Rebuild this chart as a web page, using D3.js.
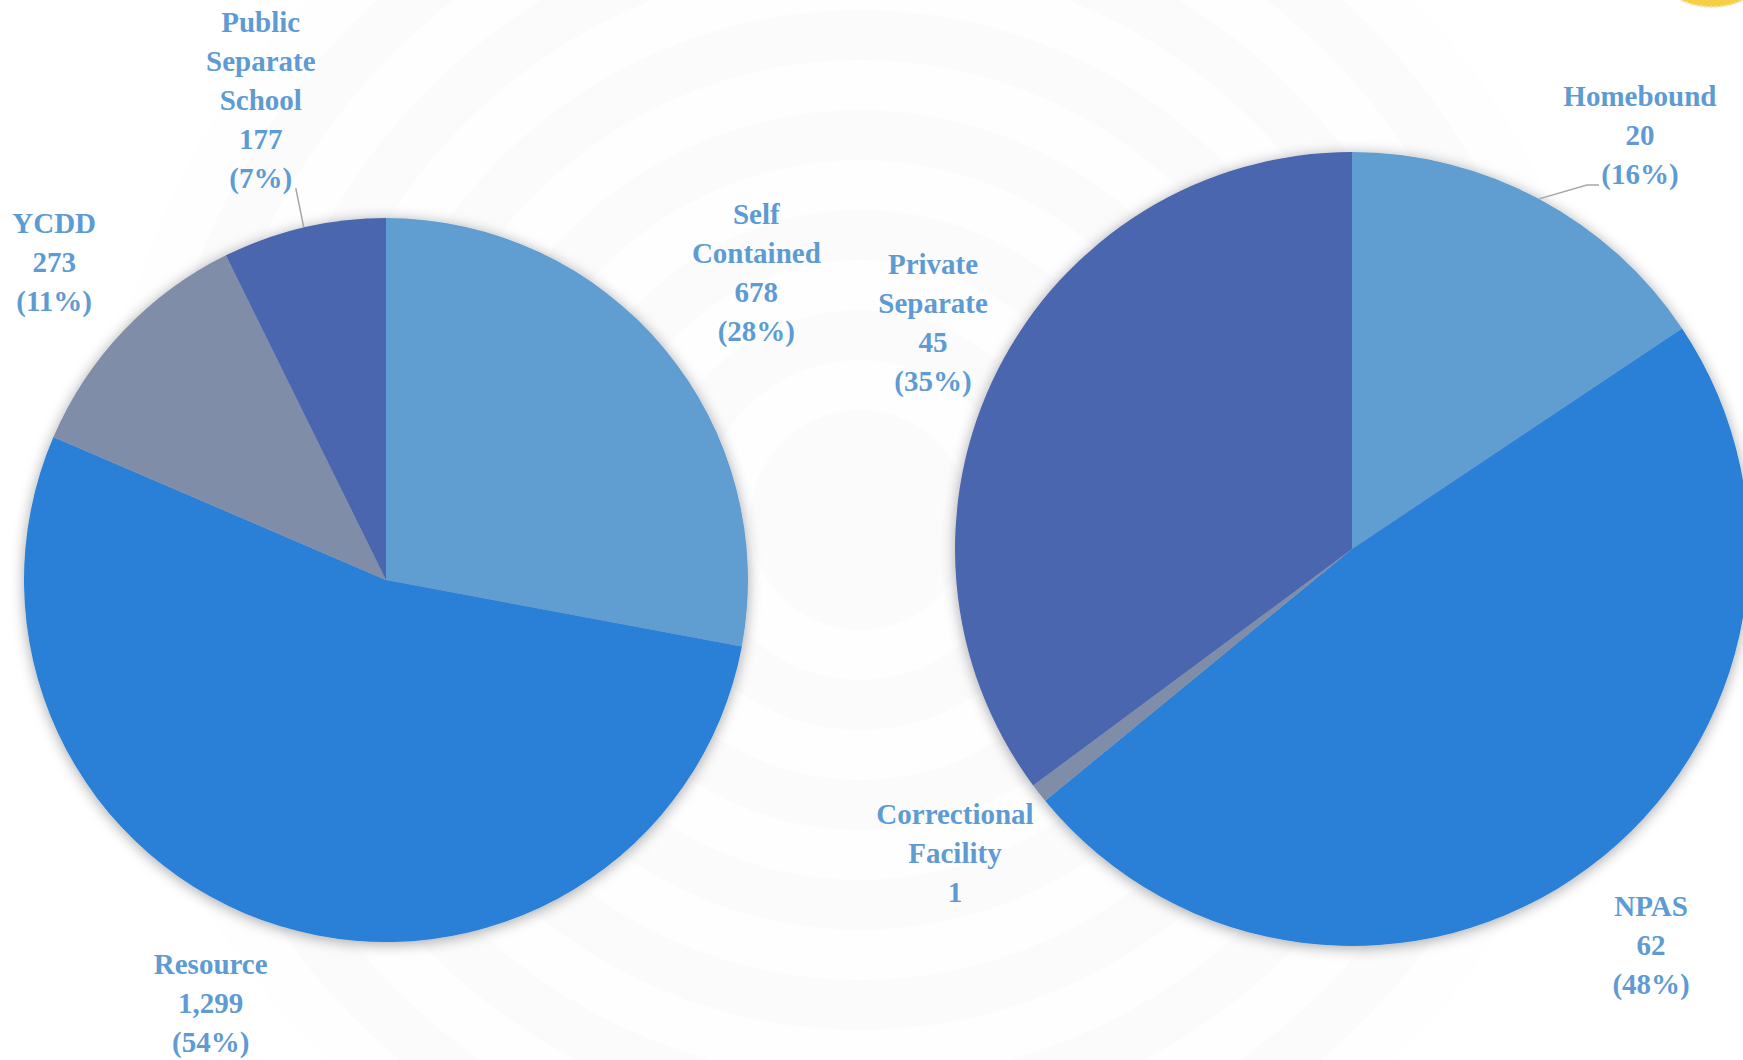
<!DOCTYPE html>
<html>
<head>
<meta charset="utf-8">
<script src="https://cdn.jsdelivr.net/npm/d3@7"></script>
<style>
  html, body { margin: 0; padding: 0; background: #ffffff; }
  svg { display: block; }
</style>
</head>
<body>
<svg id="chart" width="1743" height="1060"></svg>
<script>
// ---- data ----
const leftCategories = ["Self\nContained", "Resource", "YCDD", "Public\nSeparate\nSchool"];
const leftValues = [678, 1299, 273, 177];
const leftPercents = ["28%", "54%", "11%", "7%"];
const leftValueLabels = ["678", "1,299", "273", "177"];

const rightCategories = ["Homebound", "NPAS", "Correctional\nFacility", "Private\nSeparate"];
const rightValues = [20, 62, 1, 45];
const rightPercents = ["16%", "48%", null, "35%"];
const rightValueLabels = ["20", "62", "1", "45"];

// ---- styling / layout ----
const W = 1743, H = 1060;
const sliceColors = ["#619dd1", "#2a7fd6", "#7f8da8", "#4a66ae"];
const labelColor = "#5e9bd3";
const fontSize = 29, lineH = 39;

const pies = [
  { cx: 386, cy: 580, r: 362, cats: leftCategories, vals: leftValues, pcts: leftPercents, vlab: leftValueLabels,
    labelR: [1.33, 1.265, 1.27, 1.37], angNudge: [0, 5.6, 0.3, -1.5], leader: [null, null, null, "straight"] },
  { cx: 1352, cy: 549, r: 397, cats: rightCategories, vals: rightValues, pcts: rightPercents, vlab: rightValueLabels,
    labelR: [1.27, 1.25, 1.26, 1.2], angNudge: [6.7, -0.5, 0.5, 1.7], leader: ["elbow", null, null, null] }
];

const svg = d3.select("#chart");
const defs = svg.append("defs");

const f = defs.append("filter").attr("id", "shadow")
  .attr("x", "-20%").attr("y", "-20%").attr("width", "140%").attr("height", "140%");
f.append("feDropShadow").attr("dx", 0).attr("dy", 2).attr("stdDeviation", 7)
  .attr("flood-color", "#000").attr("flood-opacity", 0.35);

// background
svg.append("rect").attr("width", W).attr("height", H).attr("fill", "#ffffff");
const bg = svg.append("g");
const ringRadii = d3.range(14).map(i => 760 - i * 50);
bg.selectAll("circle").data(ringRadii).join("circle")
  .attr("cx", 860).attr("cy", 520).attr("r", d => d)
  .attr("fill", (d, i) => i % 2 === 0 ? "#fefeff" : "#fbfbfc");

// yellow ornament at top-right
svg.append("ellipse").attr("cx", 1712).attr("cy", -62).attr("rx", 72).attr("ry", 69)
  .attr("fill", "#f7cf45").attr("stroke", "#f1e7b8").attr("stroke-width", 2).attr("stroke-dasharray", "3,2");

const deg = Math.PI / 180;

pies.forEach(p => {
  const pie = d3.pie().sort(null).value(d => d)(p.vals);
  const arc = d3.arc().innerRadius(0).outerRadius(p.r);
  const g = svg.append("g").attr("transform", `translate(${p.cx},${p.cy})`);

  g.append("g").attr("filter", "url(#shadow)")
    .selectAll("path").data(pie).join("path")
    .attr("d", arc)
    .attr("fill", (d, i) => sliceColors[i]);

  pie.forEach((d, i) => {
    const mid = (d.startAngle + d.endAngle) / 2 + p.angNudge[i] * deg;
    const lr = p.r * p.labelR[i];
    const lx = Math.sin(mid) * lr, ly = -Math.cos(mid) * lr;
    const lines = p.cats[i].split("\n").concat([p.vlab[i]]);
    if (p.pcts[i]) lines.push("(" + p.pcts[i] + ")");
    const n = lines.length;
    const t = g.append("text")
      .attr("text-anchor", "middle")
      .attr("font-family", "'Palatino Linotype', 'Book Antiqua', Palatino, 'Liberation Serif', serif")
      .attr("font-weight", "bold")
      .attr("font-size", fontSize)
      .attr("fill", labelColor);
    lines.forEach((ln, k) => {
      t.append("tspan").attr("x", lx)
        .attr("y", ly + (k - (n - 1) / 2) * lineH)
        .attr("dy", "0.35em")
        .text(ln);
    });

    const realMid = (d.startAngle + d.endAngle) / 2;
    const sx = Math.sin(realMid) * p.r, sy = -Math.cos(realMid) * p.r;
    const lastY = ly + ((n - 1) / 2) * lineH;
    if (p.leader[i] === "straight") {
      g.append("line").attr("x1", sx).attr("y1", sy)
        .attr("x2", lx + 35).attr("y2", lastY + 10)
        .attr("stroke", "#a6a6a6").attr("stroke-width", 1.5);
    } else if (p.leader[i] === "elbow") {
      const ex = lx - 41, ey = lastY + 11;
      g.append("polyline")
        .attr("points", `${sx},${sy} ${ex - 12},${ey} ${ex},${ey}`)
        .attr("fill", "none").attr("stroke", "#a6a6a6").attr("stroke-width", 1.5);
    }
  });
});
</script>
</body>
</html>
